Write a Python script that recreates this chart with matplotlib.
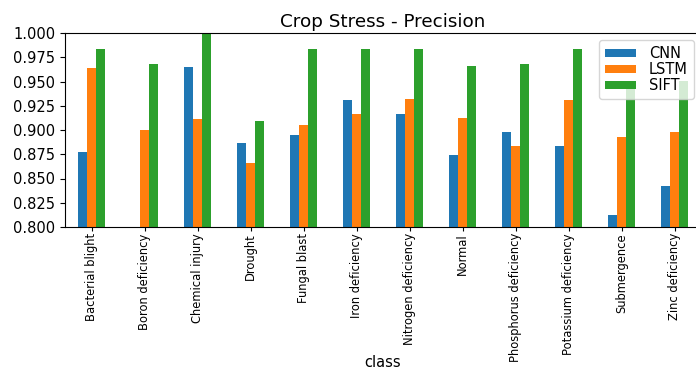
import matplotlib
matplotlib.use("Agg")
import matplotlib.pyplot as plt
import numpy as np

classes = ["Bacterial blight", "Boron deficiency", "Chemical injury", "Drought",
           "Fungal blast", "Iron deficiency", "Nitrogen deficiency", "Normal",
           "Phosphorus deficiency", "Potassium deficiency", "Submergence",
           "Zinc deficiency"]
cnn = [0.877, 0.0, 0.965, 0.887, 0.895, 0.931, 0.916, 0.874, 0.898, 0.883, 0.812, 0.842]
lstm = [0.964, 0.900, 0.911, 0.866, 0.905, 0.917, 0.932, 0.912, 0.883, 0.931, 0.893, 0.898]
sift = [0.983, 0.968, 1.000, 0.909, 0.984, 0.983, 0.983, 0.966, 0.968, 0.983, 0.951, 0.951]
series_names = ["CNN", "LSTM", "SIFT"]
colors = ["#1f77b4", "#ff7f0e", "#2ca02c"]

W, H, DPI = 696, 371, 100
fig = plt.figure(figsize=(W / DPI, H / DPI), dpi=DPI)
ax = fig.add_axes([65 / W, (H - 227) / H, 636 / W, 194 / H])

x = np.arange(len(classes))
bw = 0.5 / 3
for i, (name, vals) in enumerate(zip(series_names, [cnn, lstm, sift])):
    ax.bar(x + (i - 1) * bw, vals, width=bw, color=colors[i], label=name)

ax.set_xlim(-0.5, len(classes) - 0.5)
ax.set_ylim(0.8, 1.0)
yt = np.arange(0.8, 1.0001, 0.025)
ax.set_yticks(yt)
ax.set_yticklabels([f"{v:.3f}" for v in yt], fontsize=10.5)
ax.set_xticks(x)
ax.set_xticklabels(classes, rotation=90, fontsize=8.3)
ax.tick_params(axis="x", pad=1.5, length=3)
ax.set_xlabel("class", fontsize=10.5, va="bottom")
ax.xaxis.set_label_coords((65 + 318) / W, 1.0 / H, transform=fig.transFigure)
ax.set_title("Crop Stress - Precision", fontsize=13.2, pad=4)
ax.legend(loc="upper right", fontsize=10.5, handlelength=2.15, handleheight=0.45,
          labelspacing=0.08, borderpad=0.4, handletextpad=0.9)

fig.savefig("out.png", dpi=DPI)
